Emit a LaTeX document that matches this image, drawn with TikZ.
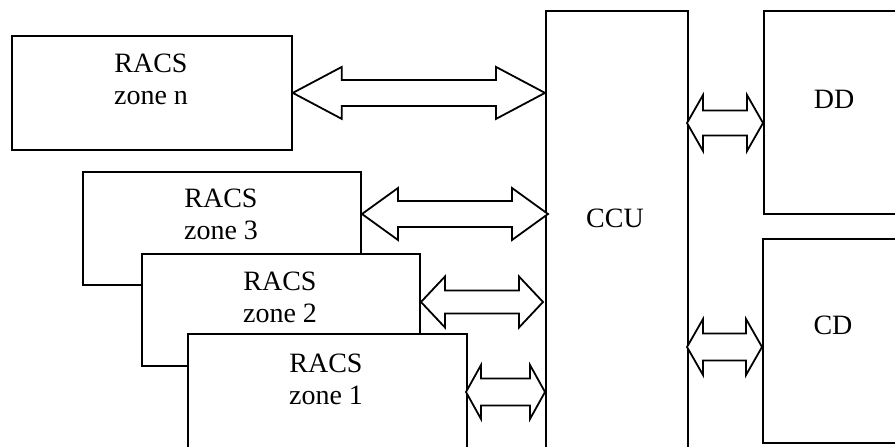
\documentclass[tikz,border=0pt]{standalone}
\usepackage{fontspec}
\setmainfont{Liberation Serif}
\usetikzlibrary{calc}
\tikzset{
  box/.style={draw=black, line width=1.8pt, fill=white, rectangle, inner sep=0pt, anchor=north west},
  lbl/.style={font=\fontsize{28}{32}\selectfont, align=center, inner sep=0pt},
  blk/.style={draw=black, line width=1.8pt, fill=white, line join=miter},
}
% #1 left tip, #2 right tip, #3 head length, #4 head half-height, #5 shaft half-height
\newcommand\dblarr[5]{%
  \draw[blk] (#1) -- ++(#3,-#4) -- ++(0,#4-#5) -- ($(#2)+(-#3,-#5)$) -- ++(0,-#4+#5) -- (#2)
    -- ++(-#3,#4) -- ++(0,-#4+#5) -- ($(#1)+(#3,#5)$) -- ++(0,#4-#5) -- cycle;}
\begin{document}
\begin{tikzpicture}[x=1pt,y=-1pt]
\useasboundingbox (0,0) rectangle (895,447);
\clip (0,0) rectangle (895,447);
% boxes
\node[box, minimum width=280pt, minimum height=114pt] (zn) at (11,35) {};
\node[box, minimum width=278pt, minimum height=113pt] (z3) at (82,171) {};
\node[box, minimum width=278pt, minimum height=112pt] (z2) at (141,253) {};
\node[box, minimum width=279pt, minimum height=130pt] (z1) at (187,333) {};
\node[box, minimum width=142pt, minimum height=460pt] (ccu) at (545,10) {};
\node[box, minimum width=150pt, minimum height=203pt] (dd) at (763,10) {};
\node[box, minimum width=150pt, minimum height=204pt] (cd) at (762,238) {};
% labels
\node[lbl] (tzn) at (151,79.5) {RACS\\zone n};
\node[lbl] (tz3) at (221,214.5) {RACS\\zone 3};
\node[lbl] (tz2) at (280,297) {RACS\\zone 2};
\node[lbl] (tz1) at (326,379.5) {RACS\\zone 1};
\node[lbl] (tccu) at (615,218) {CCU};
\node[lbl] (tdd) at (834,99) {DD};
\node[lbl] (tcd) at (833,325) {CD};
% arrow end points
\coordinate (anL) at (zn.east);
\coordinate (anR) at (ccu.west |- anL);
\coordinate (a3L) at (362,214);
\coordinate (a3R) at (548,214);
\coordinate (a2L) at (421,302);
\coordinate (a2R) at (543,302);
\coordinate (a1L) at (466,392);
\coordinate (a1R) at (545,392);
\coordinate (adL) at (687,123);
\coordinate (adR) at (763,123);
\coordinate (acL) at (687,347);
\coordinate (acR) at (762,347);
% double block arrows
\dblarr{anL}{anR}{49}{26}{13}
\dblarr{a3L}{a3R}{36}{26}{13}
\dblarr{a2L}{a2R}{24}{25.5}{11.5}
\dblarr{a1L}{a1R}{15}{27}{13.5}
\dblarr{adL}{adR}{16}{28}{12.5}
\dblarr{acL}{acR}{16}{28}{13.5}
\end{tikzpicture}
\end{document}
